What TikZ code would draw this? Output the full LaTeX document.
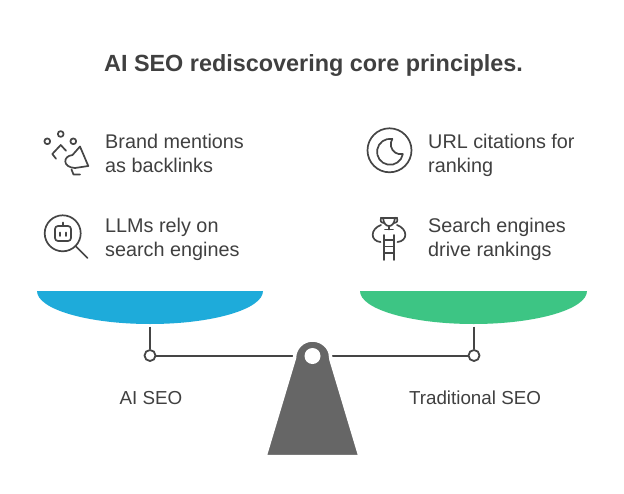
\documentclass[tikz,border=0pt]{standalone}
\usepackage{fontspec}
\setmainfont{Liberation Sans}
\definecolor{txt}{HTML}{404040}
\definecolor{ink}{HTML}{454545}
\definecolor{bluebowl}{HTML}{1EABDA}
\definecolor{greenbowl}{HTML}{3DC584}
\definecolor{basegray}{HTML}{666666}
\begin{document}
\begin{tikzpicture}[x=1pt,y=-1pt,
  title/.style={font=\fontsize{23.4}{28}\selectfont\bfseries, text=txt, inner sep=0pt, anchor=base},
  item/.style={font=\fontsize{19.8}{24}\selectfont, text=txt, inner sep=0pt, align=left, anchor=base west},
  lbl/.style={font=\fontsize{18.8}{22}\selectfont, text=txt, inner sep=0pt, anchor=base},
  icon/.style={draw=ink, line width=1.7pt, line cap=round, line join=round},
  rod/.style={draw=ink, line width=2pt},
  pivot/.style={circle, draw=ink, line width=1.8pt, fill=white, minimum size=11pt, inner sep=0pt},
  hole/.style={circle, fill=white, minimum size=16pt, inner sep=0pt}]
\useasboundingbox (0,0) rectangle (624,493);
\fill[white] (0,0) rectangle (624,493);

% title
\node[title] (ttl) at (313.5,71) {AI SEO rediscovering core principles.};

% items (base anchor = baseline of last line)
\node[item] (t1) at (105,172) {Brand mentions\\as backlinks};
\node[item] (t2) at (105,256) {LLMs rely on\\search engines};
\node[item] (t3) at (428,172) {URL citations for\\ranking};
\node[item] (t4) at (428,256) {Search engines\\drive rankings};

% icon 1: megaphone
\begin{scope}[icon]
  \draw (47.3,141.3) circle[radius=2.9];
  \draw (60.7,134) circle[radius=2.9];
  \draw (73.3,141.3) circle[radius=2.9];
  \draw (56,158.7) -- (52.3,154) -- (60.7,145) -- (66,150.7);
  \draw (72.5,155) -- (80,146.5) -- (88.3,166) -- (75,168);
  \draw (72.5,155) .. controls (62.5,156) and (62.5,167.5) .. (75,168);
  \draw (71.5,169.5) -- (73.5,174.5) -- (80,174.5);
\end{scope}

% icon 2: robot in magnifier
\begin{scope}[icon]
  \draw (62.7,233.3) circle[radius=18];
  \draw (76,246.5) -- (87.5,258);
  \draw[rounded corners=3pt] (55,226) rectangle (71,241);
  \draw (63,226) -- (63,222.5);
  \draw (60,232.5) -- (60,236);
  \draw (66,232.5) -- (66,236);
\end{scope}

% icon 3: moon in circle
\begin{scope}[icon]
  \draw (389.5,150.3) circle[radius=22];
  \draw (392.3,139) arc[start angle=-80, end angle=-350, radius=13]
        arc[start angle=78, end angle=213.5, radius=10] -- cycle;
\end{scope}

% icon 4: trophy and ladder
\begin{scope}[icon]
  \draw (381,217.7) -- (397,217.7);
  \draw (383,217.7) .. controls (383.5,224) and (386.5,226) .. (389,226)
        .. controls (391.5,226) and (394.5,224) .. (395,217.7);
  \draw (381,217.7) .. controls (380.5,222) .. (383.8,223);
  \draw (397,217.7) .. controls (397.5,222) .. (394.2,223);
  \draw (389,226) -- (389,229.5);
  \draw (385,229.5) -- (393,229.5);
  \draw (384,235) -- (384,260);
  \draw (394,235) -- (394,260);
  \draw (384,240) -- (394,240);
  \draw (384,246.5) -- (394,246.5);
  \draw (384,253) -- (394,253);
  \draw (381,225) .. controls (370,229) and (370,241) .. (380.5,242);
  \draw (397,225) .. controls (408,229) and (408,241) .. (397.5,242);
\end{scope}

% bowls
\fill[bluebowl] (37,291) -- (263,291) .. controls (263,309.2) and (212.4,324) .. (150,324)
   .. controls (87.6,324) and (37,309.2) .. (37,291) -- cycle;
\fill[greenbowl] (360,291) -- (587,291) .. controls (587,309.2) and (536.2,324) .. (473.5,324)
   .. controls (410.8,324) and (360,309.2) .. (360,291) -- cycle;
\coordinate (lb) at (150,326.5);
\coordinate (rb) at (474,326.5);

% pivots and beam
\node[pivot] (lp) at (150,355.5) {};
\node[pivot] (rp) at (474,355.5) {};
\draw[rod] (lb) -- (lp.north);
\draw[rod] (rb) -- (rp.north);
\draw[rod] (lp.east) -- (rp.west);

% fulcrum
\fill[basegray, draw=white, line width=3.5pt, rounded corners=2pt]
  (294.5,358) -- (265,456.5) -- (360,456.5) -- (330.5,358)
  [sharp corners] arc[start angle=0, end angle=-180, radius=18] -- cycle;
\node[hole] (hl) at (312.5,356) {};

% labels
\node[lbl] (ai) at (151,404) {AI SEO};
\node[lbl] (trad) at (475,404) {Traditional SEO};
\end{tikzpicture}
\end{document}
